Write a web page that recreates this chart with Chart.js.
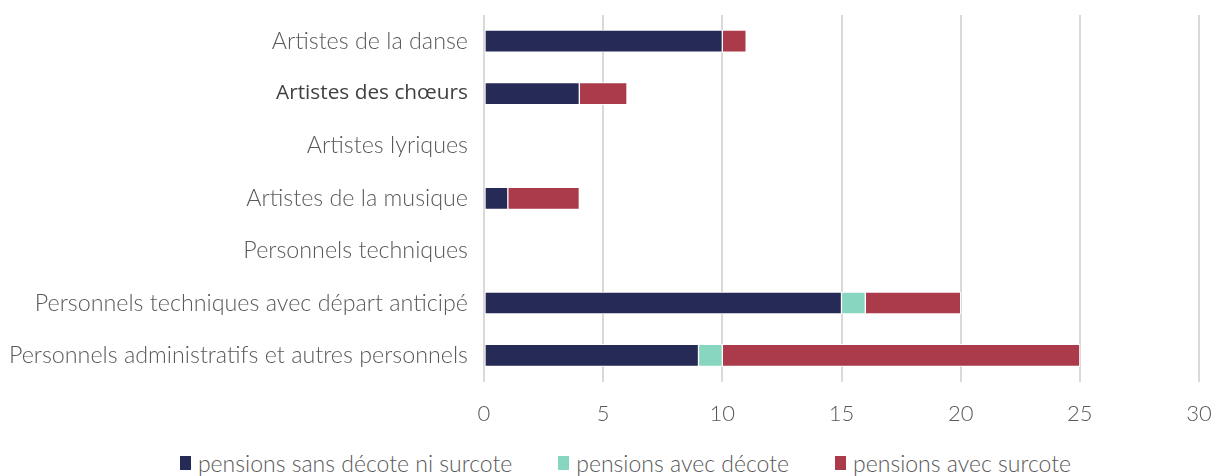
<!DOCTYPE html>
<html>
<head>
<meta charset="utf-8">
<script src="https://cdn.jsdelivr.net/npm/chart.js@4"></script>
<style>
  html, body { margin: 0; padding: 0; background: #fff; }
  #wrap { width: 1219px; height: 446px; position: relative; }
  #legend {
    height: 34px; display: flex; justify-content: center; align-items: center;
    gap: 46px; padding-left: 32px;
    font-family: 'Lato', sans-serif; font-weight: 300; font-size: 23px; color: #595959;
  }
  #legend .item { display: flex; align-items: center; }
  #legend .box { width: 11px; height: 14px; margin-right: 7px; }
</style>
</head>
<body>
<div id="wrap"><canvas id="pensionChart"></canvas></div>
<div id="legend"></div>
<script>
const categories = [
    'Artistes de la danse',
    'Artistes des chœurs',
    'Artistes lyriques',
    'Artistes de la musique',
    'Personnels techniques',
    'Personnels techniques avec départ anticipé',
    'Personnels administratifs et autres personnels'
];
const sansDecote = [10, 4, 0, 1, 0, 15, 9];
const avecDecote = [0, 0, 0, 0, 0, 1, 1];
const avecSurcote = [1, 2, 0, 3, 0, 4, 15];
const xTicks = [0, 5, 10, 15, 20, 25, 30];

const seriesNames = ['pensions sans décote ni surcote', 'pensions avec décote', 'pensions avec surcote'];
const seriesColors = ['#262a56', '#88d6c0', '#ab3b4b'];

const labelFont = "'Lato', sans-serif";

function makeDataset(i, values) {
    return {
        label: seriesNames[i],
        data: values,
        backgroundColor: seriesColors[i],
        borderColor: '#ffffff',
        borderWidth: 1,
        borderSkipped: false,
        barThickness: 22
    };
}

const ctx = document.getElementById('pensionChart').getContext('2d');
const chart = new Chart(ctx, {
    type: 'bar',
    data: {
        labels: categories,
        datasets: [
            makeDataset(0, sansDecote),
            makeDataset(1, avecDecote),
            makeDataset(2, avecSurcote)
        ]
    },
    options: {
        indexAxis: 'y',
        responsive: true,
        maintainAspectRatio: false,
        animation: false,
        layout: { padding: { top: 15, right: 20, left: 0, bottom: 0 } },
        plugins: {
            tooltip: { enabled: false },
            legend: { display: false }
        },
        scales: {
            x: {
                stacked: true,
                min: 0,
                max: 30,
                afterBuildTicks: axis => {
                    axis.ticks = xTicks.map(v => ({ value: v }));
                },
                afterFit: axis => {
                    axis.paddingLeft = 0;
                    axis.paddingRight = 0;
                },
                grid: {
                    color: '#d9d9d9',
                    lineWidth: 2,
                    drawTicks: false
                },
                border: { display: false },
                ticks: {
                    color: '#595959',
                    padding: 19,
                    font: { family: labelFont, size: 22, weight: 300 }
                }
            },
            y: {
                stacked: true,
                afterFit: axis => {
                    axis.width = 484;
                    axis.paddingTop = 0;
                    axis.paddingBottom = 0;
                },
                grid: { display: false },
                border: { display: false },
                ticks: {
                    padding: 8,
                    color: c => c.index === 1 ? '#404040' : '#595959',
                    font: c => c.index === 1
                        ? { family: "'Open Sans', sans-serif", size: 20.8 }
                        : { family: labelFont, size: 23.3, weight: 300 }
                }
            }
        }
    }
});

// legend below the canvas, built from the datasets
const legendEl = document.getElementById('legend');
chart.data.datasets.forEach(ds => {
    const item = document.createElement('div');
    item.className = 'item';
    const box = document.createElement('span');
    box.className = 'box';
    box.style.background = ds.backgroundColor;
    const text = document.createElement('span');
    text.textContent = ds.label;
    item.appendChild(box);
    item.appendChild(text);
    legendEl.appendChild(item);
});
</script>
</body>
</html>
